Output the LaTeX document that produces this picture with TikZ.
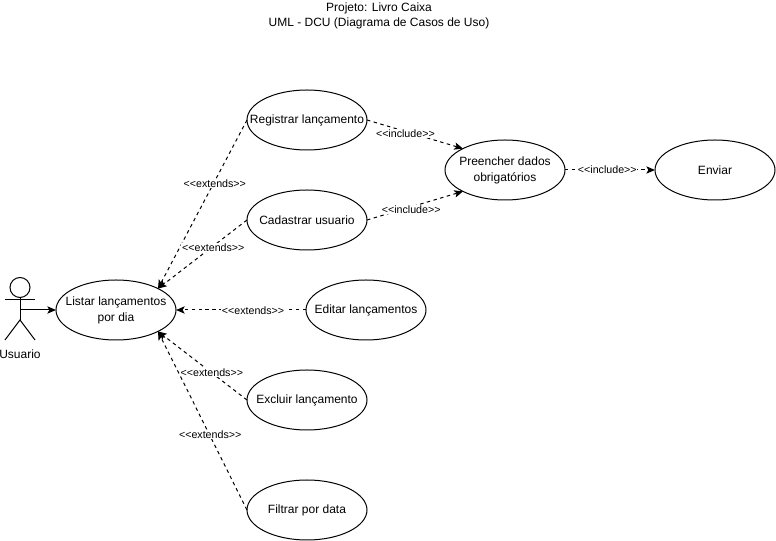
\documentclass[tikz,border=0pt]{standalone}
\usepackage{fontspec}
\setmainfont{Liberation Sans}
\usetikzlibrary{arrows.meta}
\usetikzlibrary{shapes.geometric}
\tikzstyle{usecase}=[ellipse,draw,line width=0.75pt,minimum width=90pt,minimum height=45pt,inner sep=-12pt,outer sep=0pt,align=center,font=\fontsize{9}{12}\selectfont]
\tikzstyle{edge} = [draw,line width=0.75pt,dash pattern=on 2.6pt off 2.6pt,-{Stealth[length=6.5pt,width=5.5pt,inset=1.5pt]}]
\tikzstyle{assoc} = [draw,line width=0.75pt,-{Stealth[length=6.5pt,width=5.5pt,inset=1.5pt]}]
\tikzstyle{stick} = [draw,line width=0.75pt]
\tikzstyle{weight} = [fill=white,inner sep=0.5pt,font=\fontsize{8}{9}\selectfont]
\tikzstyle{plain} = [align=center,inner sep=0pt,font=\fontsize{9}{11.25}\selectfont]

\begin{document}
\begin{tikzpicture}[x=0.75pt,y=-0.75pt]
	\useasboundingbox (0,0) rectangle (776,541);

	% First we draw the title
	\node[plain] (title) at (379,15.5) {Projeto: Livro Caixa\\UML - DCU (Diagrama de Casos de Uso)};

	% Then the use cases
	\foreach \pos/\name/\label in {{(116,310)/listar/{Listar lançamentos\\por dia}},
							{(307,120)/registrar/{Registrar lançamento}}, {(307,220)/cadastrar/{Cadastrar usuario}},
							{(366,310)/editar/{Editar lançamentos}}, {(307,400)/excluir/{Excluir lançamento}},
							{(307,510)/filtrar/{Filtrar por data}}, {(505,170)/preencher/{Preencher dados\\obrigatórios}},
							{(715,170)/enviar/{Enviar}}}
	\node[usecase] (\name) at \pos {\label};

	% The actor
	\node[circle,draw,line width=0.75pt,minimum size=15pt,inner sep=0pt,outer sep=0pt] (head) at (20,287.5) {};
	\coordinate (hip) at (20,320);
	\coordinate (arml) at (5,300);
	\coordinate (armr) at (35,300);
	\coordinate (footl) at (5,340);
	\coordinate (footr) at (35,340);
	\coordinate (usuario) at (20,310);
	\path[stick] (head.south) -- (hip);
	\path[stick] (arml) -- (armr);
	\path[stick] (footl) -- (hip) -- (footr);
	\node[plain] (actorname) at (20,354) {Usuario};
	\path[assoc] (usuario) -- (listar.west);

	% Connect use cases with edges and draw labels
	\foreach \source/ \dest /\where in {registrar.west/listar.27/.373, cadastrar.west/listar.27/.39,
							editar.west/listar.east/.415, excluir.west/listar.-27/.406, filtrar.west/listar.-27/.425}
	\path[edge] (\source) -- node[weight,pos=\where,xshift=0.75pt,yshift=-0.5pt] {<\kern0pt<extends>\kern0pt>} (\dest);

	\foreach \source/ \dest /\where/\drop in {registrar.east/preencher.153/.4/-1.5pt, cadastrar.east/preencher.207/.46/-2.2pt,
							preencher.east/enviar.west/.47/0pt}
	\path[edge] (\source) -- node[weight,pos=\where,yshift=\drop] {<\kern0pt<include>\kern0pt>} (\dest);

\end{tikzpicture}
\end{document}
